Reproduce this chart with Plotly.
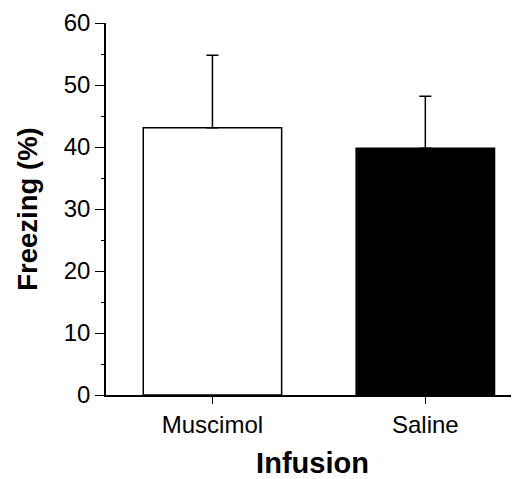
import plotly.graph_objects as go

categories = ["Muscimol", "Saline"]
freezing = [43.1, 39.8]
sem = [11.7, 8.4]
bar_colors = ["white", "black"]

fig = go.Figure()
fig.add_trace(go.Bar(
    x=categories,
    y=freezing,
    width=0.65,
    marker=dict(color=bar_colors, line=dict(color="black", width=1.5)),
    error_y=dict(type="data", symmetric=False, array=sem,
                 arrayminus=[0] * len(sem), color="black",
                 thickness=1.5, width=6),
    showlegend=False,
))

font_family = "Liberation Sans, Arial, Helvetica, sans-serif"

fig.update_layout(
    width=511, height=471,
    margin=dict(l=98, r=0, t=15, b=84),
    paper_bgcolor="white", plot_bgcolor="white",
    font=dict(family=font_family, color="black", size=22),
    xaxis=dict(
        type="category",
        range=[-0.5, 1.44],
        showline=True, linecolor="black", linewidth=1.5,
        ticks="outside", ticklen=7, tickwidth=1.2, tickcolor="black",
        tickfont=dict(size=24),
        title=dict(text="<b>Infusion</b>", font=dict(size=29), standoff=20),
        showgrid=False, zeroline=False,
    ),
    yaxis=dict(
        range=[0, 60],
        dtick=10,
        showline=True, linecolor="black", linewidth=1.5,
        ticks="outside", ticklen=9, tickwidth=1.2, tickcolor="black",
        tickfont=dict(size=24),
        minor=dict(dtick=5, ticks="outside", ticklen=3, tickcolor="black", tickwidth=1),
        title=dict(text="<b>Freezing (%)</b>", font=dict(size=27.5), standoff=18),
        showgrid=False, zeroline=False,
    ),
)

fig.write_html("out.html")
